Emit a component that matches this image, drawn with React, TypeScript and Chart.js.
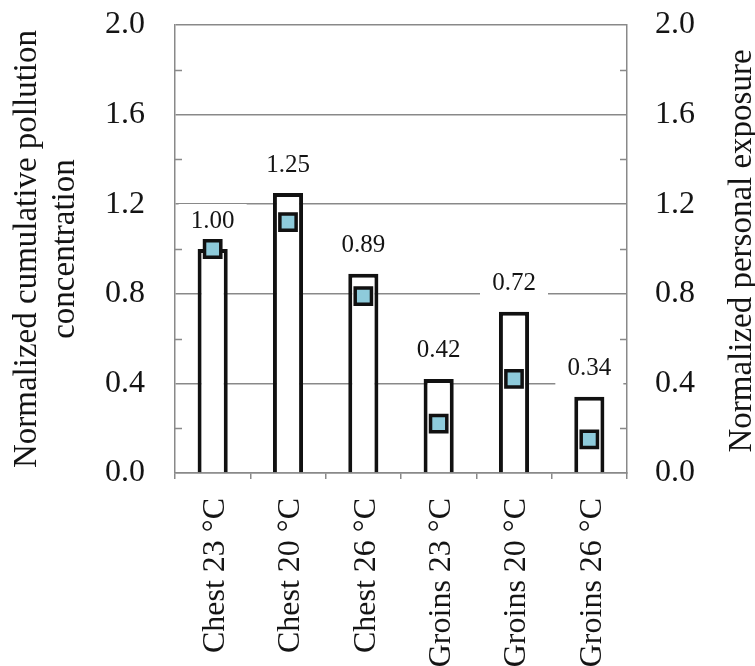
import React, { useEffect, useRef } from 'react';
import { Chart, registerables } from 'chart.js';

Chart.register(...registerables);

const categories = ['Chest 23 °C', 'Chest 20 °C', 'Chest 26 °C', 'Groins 23 °C', 'Groins 20 °C', 'Groins 26 °C'];
const concentration = [1.0, 1.25, 0.89, 0.42, 0.72, 0.34];
const concentrationLabels = ['1.00', '1.25', '0.89', '0.42', '0.72', '0.34'];
const exposure = [1.0, 1.12, 0.79, 0.22, 0.42, 0.15];
const yTicks = [0, 0.4, 0.8, 1.2, 1.6, 2.0];
const minorTicks = [0.2, 0.6, 1.0, 1.4, 1.8];
const leftTitle = ['Normalized cumulative pollution', 'concentration'];
const rightTitle = 'Normalized personal exposure';

const FONT = '"Liberation Serif", "Times New Roman", serif';
const TEXT = '#141414';
const GRID = '#898989';

const decorPlugin = {
  id: 'decor',
  beforeDatasetsDraw(chart: any) {
    const ctx = chart.ctx;
    const area = chart.chartArea;
    const ys = chart.scales.y;
    ctx.save();
    ctx.strokeStyle = GRID;
    ctx.lineWidth = 1.5;
    minorTicks.forEach((v) => {
      const py = Math.round(ys.getPixelForValue(v)) + 0.5;
      ctx.beginPath();
      ctx.moveTo(area.left, py);
      ctx.lineTo(area.left + 7, py);
      ctx.moveTo(area.right, py);
      ctx.lineTo(area.right - 7, py);
      ctx.stroke();
    });
    const meta = chart.getDatasetMeta(1);
    ctx.font = `25px ${FONT}`;
    ctx.textAlign = 'center';
    ctx.textBaseline = 'middle';
    meta.data.forEach((el: any, i: number) => {
      const { x, y } = el.getProps(['x', 'y'], true);
      const cy = y - 28;
      ctx.fillStyle = '#ffffff';
      ctx.fillRect(x - 34, cy - 17, 68, 34);
      ctx.fillStyle = TEXT;
      ctx.fillText(concentrationLabels[i], x, cy);
    });
    ctx.restore();
  },
  afterDraw(chart: any) {
    const ctx = chart.ctx;
    const area = chart.chartArea;
    ctx.save();
    ctx.font = `33px ${FONT}`;
    ctx.fillStyle = TEXT;
    ctx.textAlign = 'center';
    ctx.textBaseline = 'middle';
    ctx.translate(742, (area.top + area.bottom) / 2 + 2);
    ctx.rotate(-Math.PI / 2);
    ctx.fillText(rightTitle, 0, 0);
    ctx.restore();
  },
};

export default function App() {
  const ref = useRef<HTMLCanvasElement | null>(null);

  useEffect(() => {
    if (!ref.current) return;
    const chart = new Chart(ref.current, {
      data: {
        labels: categories,
        datasets: [
          {
            type: 'line',
            label: 'Normalized personal exposure',
            data: exposure,
            yAxisID: 'y',
            showLine: false,
            pointStyle: 'rect',
            pointRadius: 11.5,
            pointHoverRadius: 11.5,
            pointBackgroundColor: '#8ecbdb',
            pointBorderColor: '#111111',
            pointBorderWidth: 3.5,
            order: 0,
          },
          {
            type: 'bar',
            label: 'Normalized cumulative pollution concentration',
            data: concentration,
            yAxisID: 'y',
            backgroundColor: '#ffffff',
            borderColor: '#111111',
            borderWidth: 4,
            barPercentage: 0.4,
            categoryPercentage: 1.0,
            order: 1,
          },
        ],
      } as any,
      options: {
        responsive: false,
        animation: false,
        events: [],
        layout: { padding: { top: 25, left: 0, right: 0, bottom: 0 } },
        plugins: {
          legend: { display: false },
          tooltip: { enabled: false },
        },
        scales: {
          x: {
            type: 'category',
            offset: true,
            grid: {
              display: true,
              offset: true,
              drawOnChartArea: false,
              drawTicks: true,
              tickLength: 6,
              color: GRID,
              lineWidth: 1.5,
            },
            border: { display: true, color: GRID, width: 1.5 },
            ticks: {
              font: { family: FONT, size: 32 },
              color: TEXT,
              minRotation: 90,
              maxRotation: 90,
              padding: 19,
              labelOffset: 3,
              autoSkip: false,
            },
            afterFit: (s: any) => {
              s.height = 193;
              s.paddingLeft = 0;
              s.paddingRight = 0;
            },
          },
          y: {
            type: 'linear',
            position: 'left',
            min: 0,
            max: 2,
            afterBuildTicks: (s: any) => {
              s.ticks = yTicks.map((v) => ({ value: v }));
            },
            grid: {
              display: true,
              drawTicks: false,
              color: GRID,
              lineWidth: 1.5,
            },
            border: { display: true, color: GRID, width: 1.5 },
            ticks: {
              font: { family: FONT, size: 32 },
              color: TEXT,
              padding: 30,
              callback: (v: any) => Number(v).toFixed(1),
            },
            title: {
              display: true,
              text: leftTitle,
              font: { family: FONT, size: 33, lineHeight: 1.15 },
              color: TEXT,
              padding: { top: 8, bottom: 0 },
            },
            afterFit: (s: any) => {
              s.width = 175;
              s.paddingTop = 0;
              s.paddingBottom = 0;
            },
          },
          y2: {
            type: 'linear',
            position: 'right',
            min: 0,
            max: 2,
            afterBuildTicks: (s: any) => {
              s.ticks = yTicks.map((v) => ({ value: v }));
            },
            grid: { display: true, drawOnChartArea: false, drawTicks: false },
            border: { display: true, color: GRID, width: 1.5 },
            ticks: {
              font: { family: FONT, size: 32 },
              color: TEXT,
              padding: 28,
              callback: (v: any) => Number(v).toFixed(1),
            },
            afterFit: (s: any) => {
              s.width = 128;
              s.paddingTop = 0;
              s.paddingBottom = 0;
            },
          },
        },
      } as any,
      plugins: [decorPlugin],
    });
    return () => chart.destroy();
  }, []);

  return (
    <div style={{ position: 'absolute', left: 0, top: 0, width: 755, height: 666, background: '#ffffff' }}>
      <canvas ref={ref} width={755} height={666} />
    </div>
  );
}
